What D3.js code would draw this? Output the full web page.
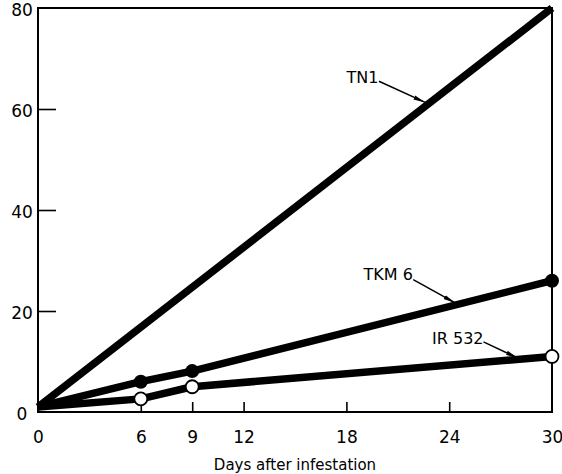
<!DOCTYPE html>
<html>
<head>
<meta charset="utf-8">
<script src="https://cdn.jsdelivr.net/npm/d3@7"></script>
<style>
  body { margin: 0; background: #fff; }
  text { font-family: "DejaVu Sans", sans-serif; fill: #000; }
</style>
</head>
<body>
<div id="chart"></div>
<script>
// ===== data =====
let days = [0, 6, 9, 30];
let tn1 = [1, null, null, 80];
let tkm6 = [1, 6, 8.1, 26];
let ir532 = [1, 2.6, 5, 11];
let xTicks = [0, 6, 9, 12, 18, 24, 30];
let yTicks = [0, 20, 40, 60, 80];

// labels with arrows, in data units: text at [x, y], arrow from -> to
let labelNames = ["TN1", "TKM 6", "IR 532"];
let labelAt = [[18.0, 66.3], [19.0, 27.2], [23.0, 14.5]];
let arrowFrom = [[19.9, 65.5], [21.9, 26.2], [26.0, 13.9]];
let arrowTo = [[22.6, 61.3], [24.35, 21.6], [28.0, 10.7]];

let margin = {top: 8, right: 10, bottom: 62, left: 38},
    width = 552 - margin.left,
    height = 412 - margin.top;

let svg = d3.select("#chart").append("svg")
    .attr("width", 562)
    .attr("height", 474);

svg.append("defs").append("marker")
    .attr("id", "head")
    .attr("viewBox", "0 0 12 6")
    .attr("refX", 12).attr("refY", 3)
    .attr("markerWidth", 12).attr("markerHeight", 6)
    .attr("markerUnits", "userSpaceOnUse")
    .attr("orient", "auto")
  .append("path")
    .attr("d", "M0,0.8 L12,3 L0,5.2 Z")
    .attr("fill", "#000");

let g = svg.append("g")
    .attr("transform", "translate(" + margin.left + "," + margin.top + ")");

let x = d3.scaleLinear().domain([0, 30]).range([0, width]),
    y = d3.scaleLinear().domain([0, 80]).range([height, 0]);

// ===== axes (ticks point inward) =====
let xAxis = d3.axisBottom(x).tickValues(xTicks).tickSizeInner(-10).tickSizeOuter(0).tickPadding(22),
    yAxis = d3.axisLeft(y).tickValues(yTicks).tickSizeInner(-18).tickSizeOuter(0).tickPadding(24);

g.append("g")
    .attr("class", "axis axis--x")
    .attr("transform", "translate(0," + height + ")")
    .call(xAxis);
g.append("g")
    .attr("class", "axis axis--y")
    .call(yAxis);

g.selectAll(".axis text")
    .style("font-size", "17px")
    .style("font-family", "DejaVu Sans, sans-serif");
g.selectAll(".axis--y text").attr("text-anchor", "middle").attr("dx", "8").attr("dy", "0.45em");
g.selectAll(".axis--x text").attr("dy", "0.5em");
g.selectAll(".axis line").attr("stroke", "#000").attr("stroke-width", 1.6);
g.selectAll(".axis path").remove();
// no tick lines at the frame corners
g.selectAll(".axis--y .tick").filter(d => d === 0 || d === 80).select("line").remove();
g.selectAll(".axis--x .tick").filter(d => d === 0 || d === 30).select("line").remove();

// frame
g.append("rect")
    .attr("width", width)
    .attr("height", height)
    .attr("fill", "none")
    .attr("stroke", "#000")
    .attr("stroke-width", 2);

// ===== lines =====
let line = d3.line()
    .x(d => x(d[0]))
    .y(d => y(d[1]));

[tn1, tkm6, ir532].forEach(s => {
  g.append("path")
      .datum(days.map((d, i) => [d, s[i]]).filter(d => d[1] != null))
      .attr("d", line)
      .attr("fill", "none")
      .attr("stroke", "#000")
      .attr("stroke-width", 7.5)
      .attr("stroke-linejoin", "round");
});

// markers
g.selectAll(".dotTkm")
    .data(days.map((d, i) => [d, tkm6[i]]).slice(1))
  .enter().append("circle")
    .attr("class", "dotTkm")
    .attr("cx", d => x(d[0]))
    .attr("cy", d => y(d[1]))
    .attr("r", 7)
    .attr("fill", "#000");

g.selectAll(".dotIr")
    .data(days.map((d, i) => [d, ir532[i]]).slice(1))
  .enter().append("circle")
    .attr("class", "dotIr")
    .attr("cx", d => x(d[0]))
    .attr("cy", d => y(d[1]))
    .attr("r", 6.5)
    .attr("fill", "#fff")
    .attr("stroke", "#000")
    .attr("stroke-width", 1.8);

// ===== labels =====
labelNames.forEach((name, i) => {
  g.append("text")
      .attr("x", x(labelAt[i][0]))
      .attr("y", y(labelAt[i][1]))
      .attr("dy", "0.35em")
      .style("font-size", "16px")
      .text(name);
  g.append("line")
      .attr("x1", x(arrowFrom[i][0])).attr("y1", y(arrowFrom[i][1]))
      .attr("x2", x(arrowTo[i][0])).attr("y2", y(arrowTo[i][1]))
      .attr("stroke", "#000")
      .attr("stroke-width", 1.5)
      .attr("marker-end", "url(#head)");
});

// axis title
g.append("text")
    .attr("x", width / 2)
    .attr("y", height + 53)
    .attr("text-anchor", "middle")
    .attr("dy", "0.35em")
    .style("font-size", "15px")
    .text("Days after infestation");
</script>
</body>
</html>
